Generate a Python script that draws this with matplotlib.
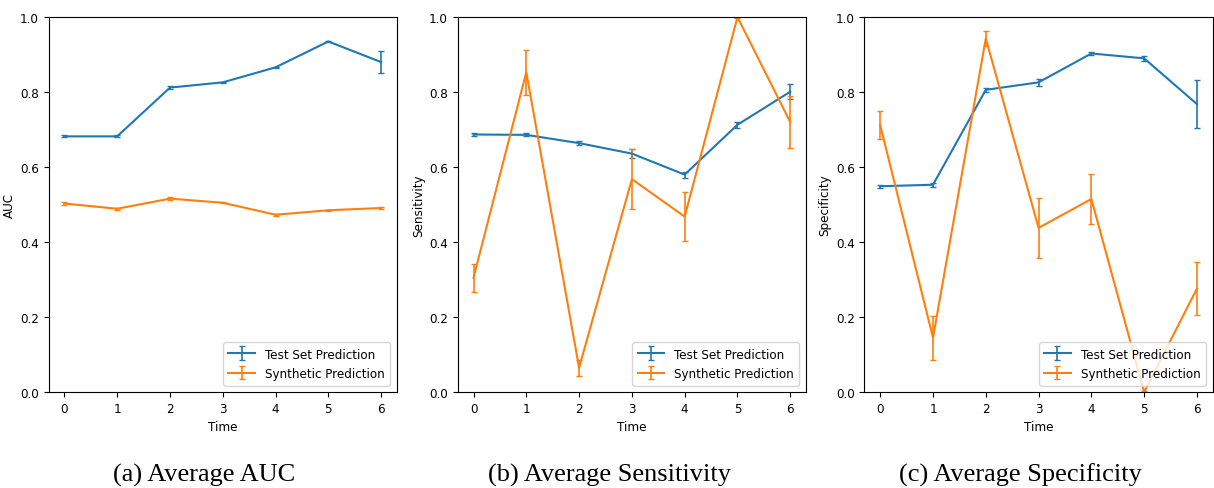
import matplotlib
matplotlib.use("Agg")
import matplotlib.pyplot as plt
from matplotlib import font_manager as fm

time = [0, 1, 2, 3, 4, 5, 6]

auc_test = [0.682, 0.682, 0.812, 0.826, 0.866, 0.935, 0.880]
auc_test_err = [0.003, 0.003, 0.003, 0.002, 0.002, 0.002, 0.030]
auc_syn = [0.503, 0.489, 0.516, 0.505, 0.473, 0.485, 0.491]
auc_syn_err = [0.003, 0.002, 0.003, 0.002, 0.002, 0.002, 0.003]

sens_test = [0.687, 0.686, 0.664, 0.636, 0.580, 0.713, 0.801]
sens_test_err = [0.005, 0.004, 0.005, 0.012, 0.008, 0.008, 0.020]
sens_syn = [0.305, 0.853, 0.065, 0.568, 0.468, 1.0, 0.720]
sens_syn_err = [0.037, 0.060, 0.022, 0.080, 0.066, 0.002, 0.070]

spec_test = [0.549, 0.553, 0.806, 0.826, 0.903, 0.890, 0.768]
spec_test_err = [0.004, 0.005, 0.005, 0.010, 0.004, 0.006, 0.064]
spec_syn = [0.712, 0.145, 0.943, 0.438, 0.515, 0.0, 0.276]
spec_syn_err = [0.038, 0.058, 0.020, 0.079, 0.066, 0.002, 0.070]

ylabels = ["AUC", "Sensitivity", "Specificity"]
captions = ["(a) Average AUC", "(b) Average Sensitivity", "(c) Average Specificity"]
panels = [
    (auc_test, auc_test_err, auc_syn, auc_syn_err),
    (sens_test, sens_test_err, sens_syn, sens_syn_err),
    (spec_test, spec_test_err, spec_syn, spec_syn_err),
]

names = sorted({f.name for f in fm.fontManager.ttflist})
condensed = any("Condensed" in f.fname for f in fm.fontManager.ttflist if f.name == "DejaVu Sans")
fsz = 9.5 if condensed else 8.5
stretch = "condensed" if condensed else "normal"
fp = fm.FontProperties(family="DejaVu Sans", stretch=stretch, size=fsz)

fig = plt.figure(figsize=(12.14, 4.89), dpi=100)
lefts = [0.040, 0.377, 0.712]
caption_x = [204 / 1214, 610 / 1214, 1020 / 1214]
for i, (t, te, s, se) in enumerate(panels):
    ax = fig.add_axes([lefts[i], 0.196, 0.287, 0.767])
    ax.errorbar(time, t, yerr=te, color="#1f77b4", capsize=2, lw=1.5,
                elinewidth=1.2, label="Test Set Prediction")
    ax.errorbar(time, s, yerr=se, color="#ff7f0e", capsize=2, lw=1.5,
                elinewidth=1.2, label="Synthetic Prediction")
    ax.set_ylim(0.0, 1.0)
    ax.set_xticks(time)
    for lab in ax.get_xticklabels() + ax.get_yticklabels():
        lab.set_fontproperties(fp)
    ax.set_xlabel("Time", fontproperties=fp)
    ax.set_ylabel(ylabels[i], fontproperties=fp, labelpad=3)
    ax.legend(loc="lower right", prop=fp)
    fig.text(caption_x[i], 0.016, captions[i], ha="center", va="baseline",
             fontsize=19, family="Liberation Serif")

fig.savefig("out.png", dpi=100)
